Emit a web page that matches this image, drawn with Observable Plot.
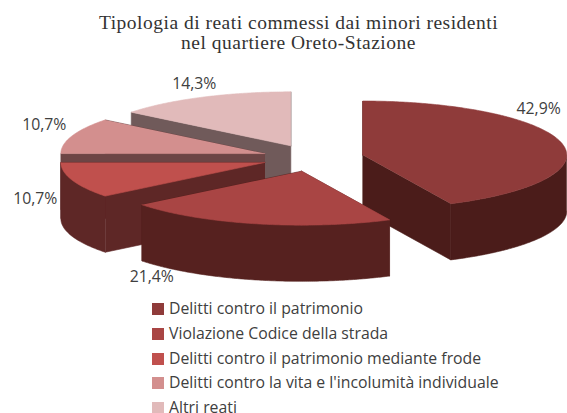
<!DOCTYPE html>
<html><head><meta charset="utf-8">
<script src="https://cdn.jsdelivr.net/npm/d3@7"></script>
<script src="https://cdn.jsdelivr.net/npm/@observablehq/plot@0.6"></script>
<style>
html,body{margin:0;padding:0;background:#fff;width:567px;height:413px;overflow:hidden}
#title{height:66px;box-sizing:border-box;padding-top:13px;padding-left:30px;text-align:center;font:19.5px/19.5px "Liberation Serif",serif;color:#333;letter-spacing:.5px;white-space:nowrap}
#chart{height:230px}
#chart svg{display:block}
#legend{font:15.8px/24.8px "Open Sans",sans-serif;color:#404040;padding-left:152px}
#legend div{white-space:nowrap;height:24.8px}
#legend i{display:inline-block;width:12px;height:12px;margin-right:5px;vertical-align:-1px}
</style></head><body>
<div id="title">Tipologia di reati commessi dai minori residenti<br>nel quartiere Oreto-Stazione</div>
<div id="chart"></div>
<div id="legend"></div>
<script>
// Data
const categories = ["Delitti contro il patrimonio","Violazione Codice della strada","Delitti contro il patrimonio mediante frode","Delitti contro la vita e l'incolumità individuale","Altri reati"];
const values = [42.9, 21.4, 10.7, 10.7, 14.3];
const valueLabels = ["42,9%","21,4%","10,7%","10,7%","14,3%"];
// Styles
const topColors  = ["#8f3b3a","#a94544","#c0504d","#d38f8e","#e1baba"];
const sideColors = ["#4b1c1a","#56211f","#5e2726","#6d4545","#705a5a"];
const drawOrder = [4,3,0,2,1];
const explode = 0.25, depth = 1.04;
// label nudges in pixels from the rim point at each slice's middle angle
const labelDx = [-23,-104,-37,-28,-8];
const labelDy = [-34,53,19,-11,-13];

const total = d3.sum(values);
let acc = 0;
const slices = values.map((v,i)=>{
  const a0 = acc/total*2*Math.PI; acc += v;
  const a1 = acc/total*2*Math.PI; const m = (a0+a1)/2;
  return {i,a0,a1,m,cx:explode*Math.sin(m),cy:explode*Math.cos(m)};
});
const rim = (s,a,z=0)=>({x:s.cx+Math.sin(a),y:s.cy+Math.cos(a)-z});
const arc = (s,a,b,z=0)=>{
  const n = Math.max(2,Math.ceil(Math.abs(b-a)/0.01)), pts=[];
  for(let k=0;k<=n;k++) pts.push(rim(s,a+(b-a)*k/n,z));
  return pts;
};
const poly = (pts,c)=>Plot.line(pts,{x:"x",y:"y",fill:c,stroke:c,strokeWidth:0.6});
const marks = [];
for(const i of drawOrder){
  const s = slices[i], c = {x:s.cx,y:s.cy}, cb = {x:s.cx,y:s.cy-depth};
  for(const a of [s.a1,s.a0]){
    marks.push(poly([c,rim(s,a),rim(s,a,depth),cb],sideColors[i]));
  }
  const w0 = Math.max(s.a0,Math.PI/2), w1 = Math.min(s.a1,3*Math.PI/2);
  if(w1>w0) marks.push(poly([...arc(s,w0,w1),...arc(s,w1,w0,depth)],sideColors[i]));
  marks.push(poly([c,...arc(s,s.a0,s.a1)],topColors[i]));
}
slices.forEach((s,i)=>{
  marks.push(Plot.text([valueLabels[i]],{
    x:()=>s.cx+Math.sin(s.m), y:()=>s.cy+Math.cos(s.m), text:d=>d,
    dx:labelDx[i], dy:labelDy[i], fontSize:15.8, fontFamily:"Open Sans", fill:"#404040"
  }));
});
const svgTop = 66, Cx = 312.5, Cy = 157.5-svgTop, rx = 204, ry = 54;
document.getElementById("chart").append(Plot.plot({
  width:567,height:230,margin:0,style:{background:"transparent",overflow:"visible"},
  x:{domain:[-1,1],range:[Cx-rx,Cx+rx],axis:null},
  y:{domain:[-1,1],range:[Cy+ry,Cy-ry],axis:null},
  marks
}));
const lg = document.getElementById("legend");
categories.forEach((c,i)=>{
  const d=document.createElement("div");
  const sw=document.createElement("i"); sw.style.background=topColors[i];
  d.append(sw,document.createTextNode(c)); lg.append(d);
});
</script>
</body></html>
